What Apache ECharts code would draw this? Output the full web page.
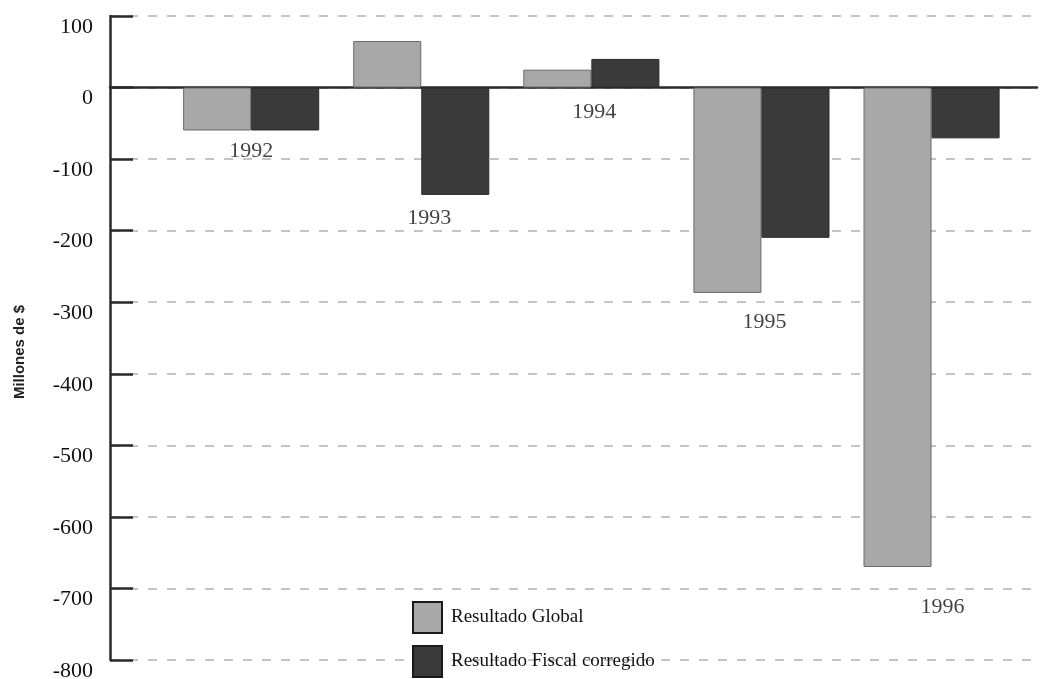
<!DOCTYPE html>
<html>
<head>
<meta charset="utf-8">
<script src="https://cdn.jsdelivr.net/npm/echarts@6/dist/echarts.min.js"></script>
<style>
html,body{margin:0;padding:0;background:#fff;}
#c{width:1042px;height:679px;}
</style>
</head>
<body>
<div id="c"></div>
<script>
const years = [1992, 1993, 1994, 1995, 1996];
const resultadoGlobal = [-60, 65, 25, -287, -670];
const resultadoFiscal = [-60, -150, 40, -210, -71];
const yearLabelValue = [-89, -182, -35, -328, -726];
const yearLabelShiftX = [0, 8, 3, 3, 11];
const yTicks = [100, 0, -100, -200, -300, -400, -500, -600, -700, -800];
const seriesNames = ['Resultado Global', 'Resultado Fiscal corregido'];

const serif = '"Liberation Serif", "DejaVu Serif", serif';
const chart = echarts.init(document.getElementById('c'));

chart.setOption({
  animation: false,
  backgroundColor: '#fff',
  grid: { left: 110, right: 5, top: 16, bottom: 19, containLabel: false, outerBoundsMode: 'none' },
  legend: {
    data: seriesNames,
    orient: 'vertical',
    left: 412,
    top: 601,
    padding: 0,
    icon: 'rect',
    itemWidth: 29,
    itemHeight: 31,
    itemGap: 11,
    textStyle: { fontFamily: serif, fontSize: 19, color: '#111', padding: [0, 0, 0, 4] },
    itemStyle: { borderColor: '#1a1a1a', borderWidth: 2 }
  },
  xAxis: {
    type: 'value',
    min: 1991.17,
    max: 1996.62,
    axisLine: { show: true, onZero: true, lineStyle: { color: '#2a2a2a', width: 2.5 } },
    axisTick: { show: false },
    axisLabel: { show: false },
    splitLine: { show: false }
  },
  yAxis: {
    type: 'value',
    min: -800,
    max: 100,
    interval: 100,
    name: 'Millones de $',
    nameLocation: 'middle',
    nameGap: 83,
    nameRotate: 90,
    nameTextStyle: { fontFamily: '"Liberation Sans Narrow", "Liberation Sans", Arial, sans-serif', fontSize: 15, fontWeight: 'bold', color: '#222', padding: [0, 28, 0, 0] },
    axisLine: { show: true, lineStyle: { color: '#2a2a2a', width: 2.5 } },
    axisTick: { show: true, inside: true, length: 23, lineStyle: { color: '#2a2a2a', width: 2.5 } },
    axisLabel: {
      fontFamily: serif, fontSize: 22, color: '#111', margin: 17,
      verticalAlign: 'top',
      formatter: v => (yTicks.indexOf(v) >= 0 ? String(v) : '')
    },
    splitLine: { show: true, lineStyle: { color: '#c4c4c4', type: [9, 10], width: 2 } }
  },
  series: [
    {
      name: seriesNames[0],
      type: 'bar',
      barGap: '0%',
      barCategoryGap: '20%',
      data: years.map((y, i) => [y, resultadoGlobal[i]]),
      itemStyle: { color: '#a8a8a8', borderColor: '#6a6a6a', borderWidth: 1 }
    },
    {
      name: seriesNames[1],
      type: 'bar',
      barGap: '0%',
      barCategoryGap: '20%',
      data: years.map((y, i) => [y, resultadoFiscal[i]]),
      itemStyle: { color: '#3a3a3a', borderColor: '#2a2a2a', borderWidth: 1 }
    },
    {
      name: 'años',
      type: 'scatter',
      symbolSize: 0,
      silent: true,
      data: years.map((y, i) => ({
        value: [y, yearLabelValue[i]],
        label: { offset: [yearLabelShiftX[i], 0] }
      })),
      label: {
        show: true,
        position: 'inside',
        formatter: p => String(p.value[0]),
        fontFamily: serif,
        fontSize: 22,
        color: '#111'
      },
      z: 5
    }
  ]
});
</script>
</body>
</html>
